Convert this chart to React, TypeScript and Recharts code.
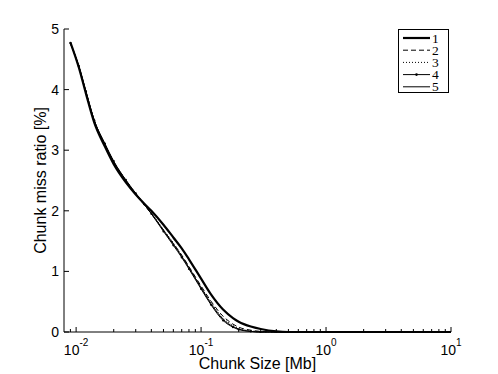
import React from 'react';
import { LineChart, Line, XAxis, YAxis, Label } from 'recharts';

// chunk size in Mb (log axis)
const chunkSize = [0.009, 0.0105, 0.012, 0.014, 0.017, 0.02, 0.025, 0.03, 0.035, 0.04, 0.05, 0.06, 0.07, 0.08, 0.1, 0.12, 0.15, 0.18, 0.2, 0.25, 0.3, 0.4, 0.5, 0.7, 1, 2, 5, 10];

// miss ratio [%] per run
const run1 = [4.78, 4.37, 3.93, 3.45, 3.06, 2.77, 2.47, 2.27, 2.12, 2.0, 1.77, 1.56, 1.38, 1.2, 0.88, 0.62, 0.37, 0.23, 0.17, 0.09, 0.05, 0.01, 0, 0, 0, 0, 0, 0];
const run2 = [4.77, 4.38, 3.95, 3.48, 3.09, 2.8, 2.49, 2.27, 2.1, 1.95, 1.68, 1.46, 1.27, 1.08, 0.76, 0.51, 0.26, 0.13, 0.08, 0.03, 0.01, 0, 0, 0, 0, 0, 0, 0];
const run3 = [4.76, 4.38, 3.96, 3.48, 3.1, 2.81, 2.51, 2.29, 2.12, 1.97, 1.69, 1.47, 1.26, 1.07, 0.74, 0.49, 0.23, 0.11, 0.06, 0.02, 0, 0, 0, 0, 0, 0, 0, 0];
const run4 = [4.77, 4.39, 3.97, 3.49, 3.11, 2.82, 2.51, 2.29, 2.11, 1.95, 1.66, 1.43, 1.23, 1.04, 0.71, 0.45, 0.19, 0.08, 0.04, 0.01, 0, 0, 0, 0, 0, 0, 0, 0];
const run5 = [4.76, 4.39, 3.96, 3.49, 3.1, 2.81, 2.5, 2.28, 2.11, 1.96, 1.68, 1.45, 1.25, 1.06, 0.73, 0.47, 0.21, 0.09, 0.05, 0.01, 0, 0, 0, 0, 0, 0, 0, 0];

const seriesNames = ['1', '2', '3', '4', '5'];

const xMajorTicks = [0.01, 0.1, 1, 10];
const xMajorExp = ['-2', '-1', '0', '1'];
const xMinorTicks = [0.009, 0.02, 0.03, 0.04, 0.05, 0.06, 0.07, 0.08, 0.09, 0.2, 0.3, 0.4, 0.5, 0.6, 0.7, 0.8, 0.9, 2, 3, 4, 5, 6, 7, 8, 9];
const yTicks = [0, 1, 2, 3, 4, 5];

const rows = chunkSize.map((x, i) => ({
    x,
    r1: run1[i],
    r2: run2[i],
    r3: run3[i],
    r4: run4[i],
    r5: run5[i],
}));

const FONT = '"Liberation Sans", Arial, Helvetica, sans-serif';
const allXTicks = [...xMajorTicks, ...xMinorTicks];

const BottomTick = (props: any) => {
    const { x, y, payload } = props;
    const idx = xMajorTicks.indexOf(payload.value);
    const major = idx >= 0;
    return (
        <g>
            <line x1={x} x2={x} y1={y} y2={y - (major ? 5 : 3)} stroke="#000" />
            {major && (
                <text x={x} y={y + 23} textAnchor="middle" fontFamily={FONT} fontSize={14} fill="#000">
                    10
                    <tspan dy={-9} fontSize={10}>{xMajorExp[idx]}</tspan>
                </text>
            )}
        </g>
    );
};

const TopTick = (props: any) => {
    const { x, y, payload } = props;
    const major = xMajorTicks.includes(payload.value);
    return <line x1={x} x2={x} y1={y} y2={y + (major ? 5 : 3)} stroke="#000" />;
};

const LeftTick = (props: any) => {
    const { x, y, payload } = props;
    return (
        <g>
            <line x1={x} x2={x + 5} y1={y} y2={y} stroke="#000" />
            <text x={x - 5} y={y + 5} textAnchor="end" fontFamily={FONT} fontSize={14} fill="#000">
                {payload.value}
            </text>
        </g>
    );
};

const RightTick = (props: any) => {
    const { x, y } = props;
    return <line x1={x} x2={x - 5} y1={y} y2={y} stroke="#000" />;
};

const XTitle = (props: any) => {
    const vb = props.viewBox;
    return (
        <text x={vb.x + vb.width / 2} y={vb.y + 37} textAnchor="middle" fontFamily={FONT} fontSize={16} fill="#000">
            Chunk Size [Mb]
        </text>
    );
};

const YTitle = (props: any) => {
    const vb = props.viewBox;
    const cx = vb.x + 46;
    const cy = vb.y + vb.height / 2;
    return (
        <text x={cx} y={cy} transform={`rotate(-90 ${cx} ${cy})`} textAnchor="middle" fontFamily={FONT} fontSize={16} fill="#000">
            Chunk miss ratio [%]
        </text>
    );
};

const legendStyles = [
    { width: 2.2, dash: undefined as string | undefined, dot: false },
    { width: 1, dash: '5 3', dot: false },
    { width: 1, dash: '1 2', dot: false },
    { width: 1, dash: undefined, dot: true },
    { width: 1, dash: undefined, dot: false },
];

function LegendBox() {
    return (
        <svg width={51} height={65} style={{ position: 'absolute', left: 398, top: 29 }}>
            <rect x={0.5} y={0.5} width={50} height={63} fill="#fff" stroke="#000" />
            {seriesNames.map((name, i) => {
                const cy = 9 + i * 12.2;
                const st = legendStyles[i];
                return (
                    <g key={name}>
                        <line x1={5} x2={32} y1={cy} y2={cy} stroke="#000" strokeWidth={st.width} strokeDasharray={st.dash} />
                        {st.dot && <circle cx={18.5} cy={cy} r={1.3} fill="#000" />}
                        <text x={34} y={cy + 4.5} fontFamily='"Liberation Serif", "Times New Roman", serif' fontSize={13.5} fill="#000">
                            {name}
                        </text>
                    </g>
                );
            })}
        </svg>
    );
}

const Dot = (props: any) => {
    const { cx, cy } = props;
    if (cx == null || cy == null) return null;
    return <circle cx={cx} cy={cy} r={1.1} fill="#000" />;
};

export default function App() {
    return (
        <div style={{ position: 'absolute', left: 0, top: 0, width: 498, height: 374, background: '#fff' }}>
            <LineChart width={498} height={374} data={rows} margin={{ top: 29, right: 47, bottom: 0, left: 0 }}>
                <XAxis
                    xAxisId="b"
                    dataKey="x"
                    type="number"
                    scale="log"
                    domain={[0.008, 10]}
                    allowDataOverflow
                    ticks={allXTicks}
                    interval={0}
                    tick={<BottomTick />}
                    tickLine={false}
                    tickSize={0}
                    tickMargin={0}
                    height={42}
                    stroke="#000"
                >
                    <Label content={<XTitle />} />
                </XAxis>
                <XAxis
                    xAxisId="t"
                    dataKey="x"
                    type="number"
                    scale="log"
                    orientation="top"
                    domain={[0.008, 10]}
                    allowDataOverflow
                    ticks={allXTicks}
                    interval={0}
                    tick={<TopTick />}
                    tickLine={false}
                    tickSize={0}
                    tickMargin={0}
                    height={0}
                    stroke="#000"
                />
                <YAxis
                    yAxisId="l"
                    type="number"
                    domain={[0, 5]}
                    ticks={yTicks}
                    interval={0}
                    tick={<LeftTick />}
                    tickLine={false}
                    tickSize={0}
                    tickMargin={0}
                    width={64}
                    stroke="#000"
                >
                    <Label content={<YTitle />} />
                </YAxis>
                <YAxis
                    yAxisId="r"
                    orientation="right"
                    type="number"
                    domain={[0, 5]}
                    ticks={yTicks}
                    interval={0}
                    tick={<RightTick />}
                    tickLine={false}
                    tickSize={0}
                    tickMargin={0}
                    width={0}
                    stroke="#000"
                />
                <Line xAxisId="b" yAxisId="l" type="monotone" dataKey="r5" stroke="#000" strokeWidth={1} dot={false} isAnimationActive={false} />
                <Line xAxisId="b" yAxisId="l" type="monotone" dataKey="r4" stroke="#000" strokeWidth={1} dot={<Dot />} isAnimationActive={false} />
                <Line xAxisId="b" yAxisId="l" type="monotone" dataKey="r3" stroke="#000" strokeWidth={1} strokeDasharray="1 2" dot={false} isAnimationActive={false} />
                <Line xAxisId="b" yAxisId="l" type="monotone" dataKey="r2" stroke="#000" strokeWidth={1} strokeDasharray="5 3" dot={false} isAnimationActive={false} />
                <Line xAxisId="b" yAxisId="l" type="monotone" dataKey="r1" stroke="#000" strokeWidth={2.2} dot={false} isAnimationActive={false} />
            </LineChart>
            <LegendBox />
        </div>
    );
}
